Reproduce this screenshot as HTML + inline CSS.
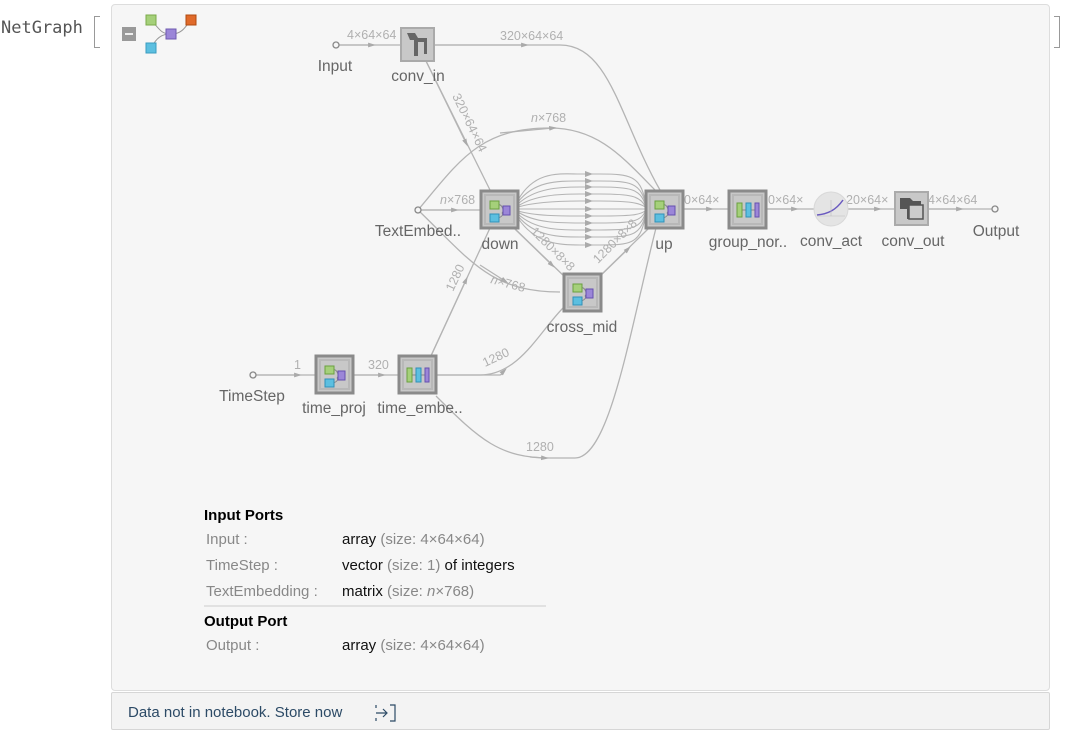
<!DOCTYPE html>
<html><head><meta charset="utf-8"><style>
html,body{margin:0;padding:0;background:#fff;width:1066px;height:732px;overflow:hidden;font-family:"Liberation Sans",sans-serif}
.abs{position:absolute}
</style></head><body>
<div class="abs" style="left:1px;top:18px;font-family:'DejaVu Sans Mono','Liberation Mono',monospace;font-size:17px;color:#555">NetGraph</div>
<div class="abs" style="left:94px;top:16px;width:5px;height:30px;border:1px solid #999;border-right:none"></div>
<div class="abs" style="left:1054px;top:16px;width:5px;height:30px;border:1px solid #999;border-left:none"></div>
<div class="abs" style="left:111px;top:4px;width:937px;height:685px;background:#f6f6f6;border:1px solid #ddd;border-radius:4px"></div>
<div class="abs" style="left:111px;top:692px;width:937px;height:36px;background:#f3f3f3;border:1px solid #d6d6d6;border-radius:2px"></div>
<div class="abs" style="left:128px;top:704px;font-size:15px;color:#2c4a66">Data not in notebook. Store now</div>
<svg class="abs" style="left:0;top:0" width="1066" height="732" viewBox="0 0 1066 732" font-family="Liberation Sans, sans-serif">
<defs><marker id="a" viewBox="0 0 10 10" refX="5" refY="5" markerWidth="6" markerHeight="6" orient="auto"><path d="M0,2 L10,5 L0,8 z" fill="#aaa"/></marker></defs>
<g stroke="#2c4a66" stroke-width="1.2" fill="none"><path d="M376,713 h10 M383,709 l4,4 l-4,4"/><path d="M390,705 h5 v16 h-5 M376,705 v3 M376,718 v3"/></g>
<rect x="122" y="27" width="14" height="14" fill="#999"/><rect x="125" y="33" width="8" height="2" fill="#eee"/>
<g stroke="#999" stroke-width="1" fill="none"><path d="M152,21 C160,30 162,34 170,34 M152,47 C156,38 162,34 170,34 M172,34 C182,34 186,26 190,21"/></g>
<rect x="146" y="15" width="10" height="10" fill="#a5d07a" stroke="#7aaa4a"/>
<rect x="146" y="43" width="10" height="10" fill="#5cbfe0" stroke="#3a9cc0"/>
<rect x="166" y="29" width="10" height="10" fill="#9b86d8" stroke="#6f5ab0"/>
<rect x="186" y="15" width="10" height="10" fill="#e06a2a" stroke="#b04a10"/>
<g stroke="#b4b4b4" stroke-width="1.3" fill="none">
<path d="M336,45 H401" /><path d="M336,45 H372" marker-end="url(#a)"/>
<path d="M434,45 H560 C610,45 620,120 660,190"/><path d="M434,45 H525" marker-end="url(#a)"/>
<path d="M426,61 L490,190"/><path d="M426,61 L466,143" marker-end="url(#a)"/>
<path d="M418,210 H480"/><path d="M418,210 H455" marker-end="url(#a)"/>
<path d="M418,210 C460,160 480,128 550,128 C600,128 625,160 657,192"/><path d="M500,133 L553,128" marker-end="url(#a)"/>
<path d="M418,210 C470,260 490,292 560,292"/><path d="M480,265 L505,281" marker-end="url(#a)"/>
<path d="M515,229 L566,278"/><path d="M515,229 L552,265" marker-end="url(#a)"/>
<path d="M598,278 L648,229"/><path d="M598,278 L628,249" marker-end="url(#a)"/>
<path d="M430,358 L490,228"/><path d="M430,358 L466,280" marker-end="url(#a)"/>
<path d="M436,375 H480 C520,375 540,330 565,306"/><path d="M436,375 H500 C505,373 500,375 504,371" marker-end="url(#a)"/>
<path d="M436,396 C480,440 500,458 550,458 H575 C610,458 630,330 656,228"/><path d="M530,457 L545,458" marker-end="url(#a)"/>
<path d="M253,375 H316"/><path d="M253,375 H298" marker-end="url(#a)"/>
<path d="M353,375 H398"/><path d="M353,375 H382" marker-end="url(#a)"/>
<path d="M682,209 H728"/><path d="M682,209 H710" marker-end="url(#a)"/>
<path d="M767,209 H814"/><path d="M767,209 H795" marker-end="url(#a)"/>
<path d="M848,209 H895"/><path d="M848,209 H878" marker-end="url(#a)"/>
<path d="M929,209 H995"/><path d="M929,209 H960" marker-end="url(#a)"/>
</g>
<g stroke="#b4b4b4" stroke-width="1.1" fill="none">
<path d="M518,200 C535,170 560,174 580,174 H600 C630,174 640,176 645,200"/>
<path d="M518,202 C535,180 560,181 580,181 H600 C630,181 640,183 645,202"/>
<path d="M518,204 C535,188 560,187 580,187 H600 C630,187 640,189 645,204"/>
<path d="M518,206 C535,195 560,194 580,194 H600 C630,194 640,196 645,206"/>
<path d="M518,207 C535,202 560,201 580,201 H600 C630,201 640,203 645,207"/>
<path d="M518,209 H645"/>
<path d="M518,211 C535,216 560,216 580,216 H600 C630,216 640,215 645,211"/>
<path d="M518,212 C535,223 560,223 580,223 H600 C630,223 640,222 645,212"/>
<path d="M518,214 C535,230 560,230 580,230 H600 C630,230 640,229 645,214"/>
<path d="M518,216 C535,237 560,237 580,237 H600 C630,237 640,236 645,216"/>
<path d="M518,218 C535,244 560,245 580,245 H600 C630,245 640,244 645,218"/>
</g>
<g fill="#aaa"><path d="M585,171 l8,3 l-8,3z M585,178 l8,3 l-8,3z M585,184 l8,3 l-8,3z M585,191 l8,3 l-8,3z M585,198 l8,3 l-8,3z M585,206 l8,3 l-8,3z M585,213 l8,3 l-8,3z M585,220 l8,3 l-8,3z M585,227 l8,3 l-8,3z M585,234 l8,3 l-8,3z M585,242 l8,3 l-8,3z"/></g>
<g fill="#f6f6f6" stroke="#888" stroke-width="1.3"><circle cx="336" cy="45" r="3"/><circle cx="418" cy="210" r="3"/><circle cx="253" cy="375" r="3"/><circle cx="995" cy="209" r="3"/></g>
<g fill="#b0b0b0" font-size="12.5">
<text x="347" y="39">4×64×64</text><text x="500" y="40">320×64×64</text>
<text x="531" y="122"><tspan font-style="italic">n</tspan>×768</text>
<text x="440" y="204"><tspan font-style="italic">n</tspan>×768</text>
<text x="490" y="283" transform="rotate(15 490 283)"><tspan font-style="italic">n</tspan>×768</text>
<text x="452" y="96" transform="rotate(64 452 96)">320×64×64</text>
<text x="530" y="232" transform="rotate(45 530 232)">1280×8×8</text>
<text x="598" y="264" transform="rotate(-45 598 264)">1280×8×8</text>
<text x="453" y="292" transform="rotate(-65 453 292)">1280</text>
<text x="485" y="367" transform="rotate(-25 485 367)">1280</text>
<text x="526" y="451">1280</text>
<text x="294" y="369">1</text><text x="368" y="369">320</text>
<text x="684" y="204">0×64×</text><text x="768" y="204">0×64×</text><text x="846" y="204">20×64×</text><text x="928" y="204">4×64×64</text>
</g>
<g>
<rect x="401" y="28" width="33" height="33" fill="#c8c8c8" stroke="#aaa" stroke-width="2"/>
<path d="M407,33 h8 l3,5 h9 v16 h-3 v-12 h-6 v14 h-4 v-16 h-4 z" fill="#666"/>
<rect x="895" y="192" width="33" height="33" fill="#c8c8c8" stroke="#aaa" stroke-width="2"/>
<path d="M900,198 h10 l3,3 h8 v4 h-10 v14 h-4 v-10 h-7z" fill="#555"/><rect x="909" y="205" width="14" height="14" fill="#ccc" stroke="#555" stroke-width="1.5"/>
<circle cx="831" cy="209" r="17" fill="#e4e4e4" stroke="#d8d8d8"/>
<path d="M817,215 C828,214 836,210 843,200" stroke="#6a5ac0" stroke-width="1.5" fill="none"/><path d="M831,200 V216 M817,216 H845" stroke="#bbb" stroke-width="0.6"/>
</g>
<g>
<g transform="translate(480,190)"><rect x="1" y="1" width="37" height="37" fill="#c8c8c8" stroke="#8a8a8a" stroke-width="3"/><rect x="5" y="5" width="29" height="29" fill="none" stroke="#b8b8b8" stroke-width="2"/><path d="M16,14 C24,14 24,22 22,24 M16,28 C22,28 24,24 22,22" stroke="#888" fill="none"/><rect x="10" y="11" width="9" height="8" fill="#a5d07a" stroke="#6aa040"/><rect x="10" y="24" width="9" height="8" fill="#5cbfe0" stroke="#3090b8"/><rect x="23" y="16" width="7" height="9" fill="#9b86d8" stroke="#6650b0"/></g>
<g transform="translate(645,190)"><rect x="1" y="1" width="37" height="37" fill="#c8c8c8" stroke="#8a8a8a" stroke-width="3"/><rect x="5" y="5" width="29" height="29" fill="none" stroke="#b8b8b8" stroke-width="2"/><path d="M16,14 C24,14 24,22 22,24 M16,28 C22,28 24,24 22,22" stroke="#888" fill="none"/><rect x="10" y="11" width="9" height="8" fill="#a5d07a" stroke="#6aa040"/><rect x="10" y="24" width="9" height="8" fill="#5cbfe0" stroke="#3090b8"/><rect x="23" y="16" width="7" height="9" fill="#9b86d8" stroke="#6650b0"/></g>
<g transform="translate(563,273)"><rect x="1" y="1" width="37" height="37" fill="#c8c8c8" stroke="#8a8a8a" stroke-width="3"/><rect x="5" y="5" width="29" height="29" fill="none" stroke="#b8b8b8" stroke-width="2"/><path d="M16,14 C24,14 24,22 22,24 M16,28 C22,28 24,24 22,22" stroke="#888" fill="none"/><rect x="10" y="11" width="9" height="8" fill="#a5d07a" stroke="#6aa040"/><rect x="10" y="24" width="9" height="8" fill="#5cbfe0" stroke="#3090b8"/><rect x="23" y="16" width="7" height="9" fill="#9b86d8" stroke="#6650b0"/></g>
<g transform="translate(315,355)"><rect x="1" y="1" width="37" height="37" fill="#c8c8c8" stroke="#8a8a8a" stroke-width="3"/><rect x="5" y="5" width="29" height="29" fill="none" stroke="#b8b8b8" stroke-width="2"/><path d="M16,14 C24,14 24,22 22,24 M16,28 C22,28 24,24 22,22" stroke="#888" fill="none"/><rect x="10" y="11" width="9" height="8" fill="#a5d07a" stroke="#6aa040"/><rect x="10" y="24" width="9" height="8" fill="#5cbfe0" stroke="#3090b8"/><rect x="23" y="16" width="7" height="9" fill="#9b86d8" stroke="#6650b0"/></g>
<g transform="translate(398,355)"><rect x="1" y="1" width="37" height="37" fill="#c8c8c8" stroke="#8a8a8a" stroke-width="3"/><rect x="5" y="5" width="29" height="29" fill="none" stroke="#b8b8b8" stroke-width="2"/><path d="M10,20 H30" stroke="#888"/><rect x="9" y="13" width="5" height="14" fill="#a5d07a" stroke="#6aa040"/><rect x="18" y="13" width="5" height="14" fill="#5cbfe0" stroke="#3090b8"/><rect x="27" y="13" width="4" height="14" fill="#9b86d8" stroke="#6650b0"/></g>
<g transform="translate(728,190)"><rect x="1" y="1" width="37" height="37" fill="#c8c8c8" stroke="#8a8a8a" stroke-width="3"/><rect x="5" y="5" width="29" height="29" fill="none" stroke="#b8b8b8" stroke-width="2"/><path d="M10,20 H30" stroke="#888"/><rect x="9" y="13" width="5" height="14" fill="#a5d07a" stroke="#6aa040"/><rect x="18" y="13" width="5" height="14" fill="#5cbfe0" stroke="#3090b8"/><rect x="27" y="13" width="4" height="14" fill="#9b86d8" stroke="#6650b0"/></g>
</g>
<g fill="#666" font-size="15.5" text-anchor="middle">
<text x="335" y="71">Input</text><text x="418" y="81">conv_in</text>
<text x="418" y="236">TextEmbed..</text><text x="500" y="249">down</text><text x="664" y="249">up</text>
<text x="748" y="247">group_nor..</text><text x="831" y="246">conv_act</text><text x="913" y="246">conv_out</text><text x="996" y="236">Output</text>
<text x="582" y="332">cross_mid</text><text x="252" y="401">TimeStep</text><text x="334" y="413">time_proj</text><text x="420" y="413">time_embe..</text>
</g>
<g font-size="15">
<text x="204" y="520" font-weight="bold" fill="#000">Input Ports</text>
<text x="206" y="544" fill="#888">Input :</text><text x="342" y="544" fill="#111">array <tspan fill="#888">(size: 4×64×64)</tspan></text>
<text x="206" y="570" fill="#888">TimeStep :</text><text x="342" y="570" fill="#111">vector <tspan fill="#888">(size: 1)</tspan> of integers</text>
<text x="206" y="596" fill="#888">TextEmbedding :</text><text x="342" y="596" fill="#111">matrix <tspan fill="#888">(size: <tspan font-style="italic">n</tspan>×768)</tspan></text>
<line x1="204" y1="606" x2="546" y2="606" stroke="#ccc"/>
<text x="204" y="626" font-weight="bold" fill="#000">Output Port</text>
<text x="206" y="650" fill="#888">Output :</text><text x="342" y="650" fill="#111">array <tspan fill="#888">(size: 4×64×64)</tspan></text>
</g>
</svg>
</body></html>
